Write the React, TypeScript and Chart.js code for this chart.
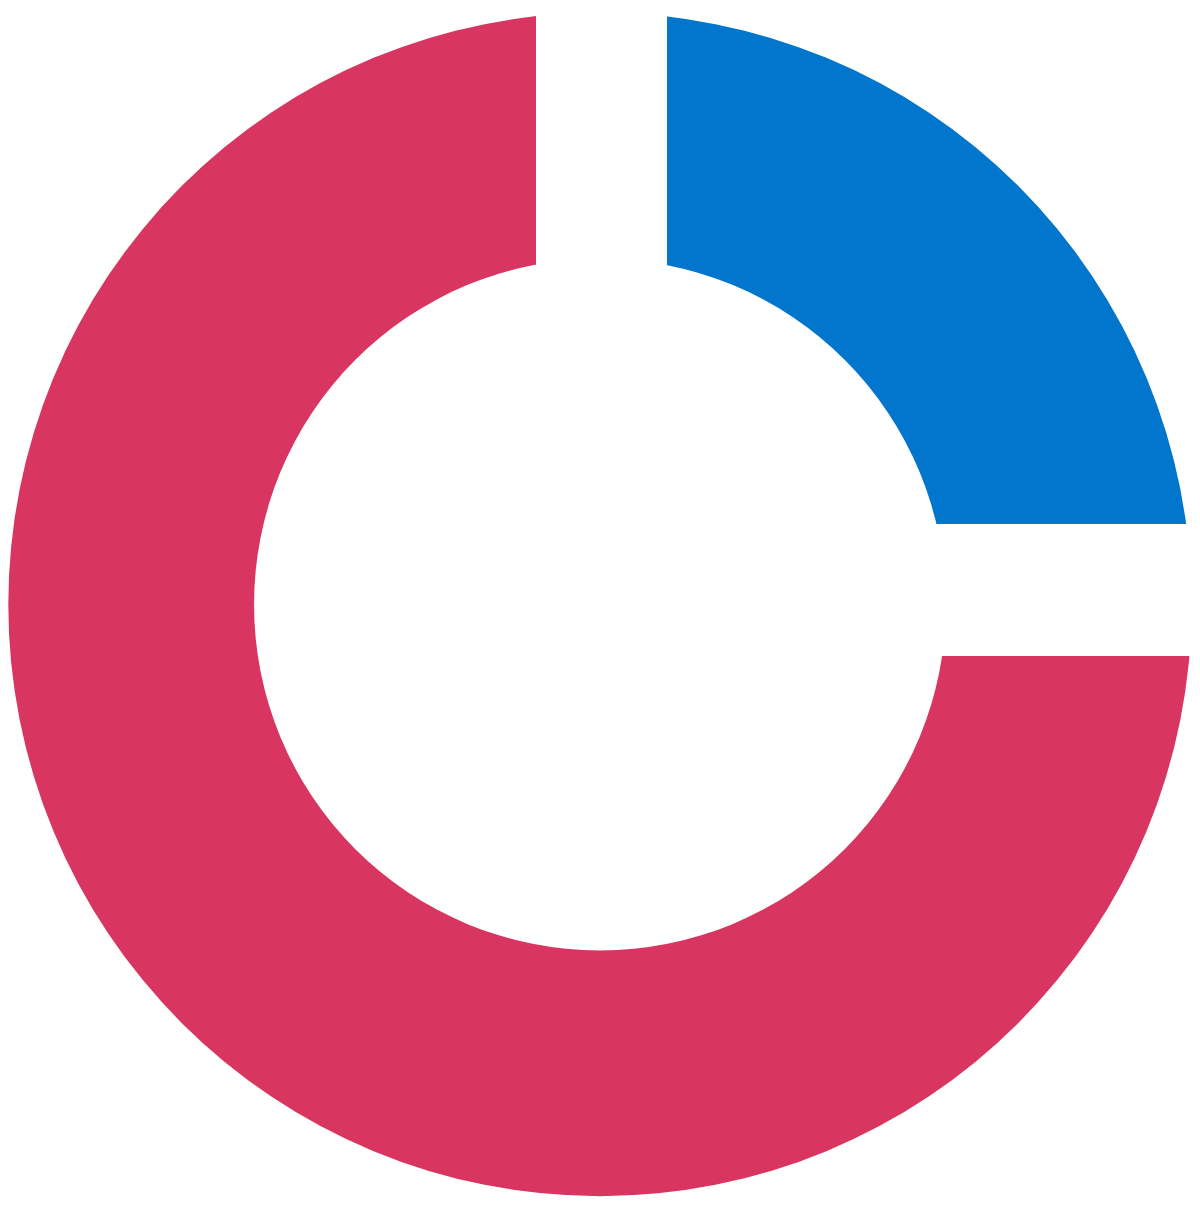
import React, { useEffect, useRef } from "react";
import { Chart, registerables } from "chart.js";

Chart.register(...registerables);

// Data
const labels: string[] = ["Blue", "Red"];
const values: number[] = [25, 75];

// Styles
const colors: string[] = ["#0276CD", "#D83661"];
// white gap cut into each segment at its start edge and at its end edge (px)
const gapAtStart: number[] = [67, 51.5];
const gapAtEnd: number[] = [80.5, 64];

const gapPlugin = {
  id: "edgeGaps",
  afterDatasetsDraw(chart: any) {
    const meta = chart.getDatasetMeta(0);
    const ctx: CanvasRenderingContext2D = chart.ctx;
    const n = meta.data.length;
    ctx.save();
    ctx.fillStyle = "#FFFFFF";
    meta.data.forEach((el: any, i: number) => {
      const { x, y, endAngle, outerRadius } = el.getProps(
        ["x", "y", "endAngle", "outerRadius"],
        true
      );
      const next = (i + 1) % n;
      const len = outerRadius + 4;
      // one band across the boundary between segment i and the next one
      ctx.save();
      ctx.translate(x, y);
      ctx.rotate(endAngle);
      ctx.fillRect(-1, -gapAtEnd[i], len + 1, gapAtEnd[i] + gapAtStart[next]);
      ctx.restore();
    });
    ctx.restore();
  },
};

export default function App() {
  const canvasRef = useRef<HTMLCanvasElement | null>(null);

  useEffect(() => {
    const canvas = canvasRef.current;
    if (!canvas) return;
    const chart = new Chart(canvas, {
      type: "doughnut",
      data: {
        labels,
        datasets: [
          {
            data: values,
            backgroundColor: colors,
            borderWidth: 0,
            hoverOffset: 0,
          },
        ],
      },
      options: {
        responsive: false,
        animation: false,
        events: [],
        radius: 591.7,
        cutout: "58.47%",
        rotation: 0,
        layout: { padding: { left: 0, right: 0, top: 0, bottom: 5 } },
        plugins: {
          legend: { display: false },
          tooltip: { enabled: false },
        },
      },
      plugins: [gapPlugin],
    });
    return () => chart.destroy();
  }, []);

  return (
    <div style={{ position: "absolute", left: 0, top: 0, width: 1200, height: 1214, background: "#FFFFFF" }}>
      <canvas ref={canvasRef} width={1200} height={1214} style={{ display: "block", width: 1200, height: 1214 }} />
    </div>
  );
}
